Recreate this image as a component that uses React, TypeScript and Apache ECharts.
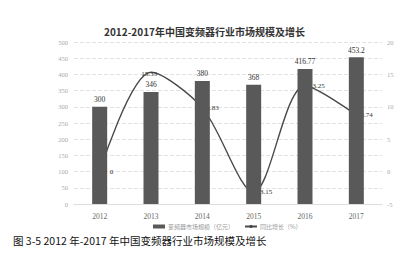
import React, { useEffect, useRef } from "react";
import * as echarts from "echarts";

const years = ["2012", "2013", "2014", "2015", "2016", "2017"];
const marketSize = [300, 346, 380, 368, 416.77, 453.2];
const growth = [0, 15.33, 9.83, -3.15, 13.25, 8.74];
const sizeName = "变频器市场规模（亿元）";
const growthName = "同比增长（%）";
const titleText = "2012-2017年中国变频器行业市场规模及增长";
const captionText = "图 3-5 2012 年-2017 年中国变频器行业市场规模及增长";

export default function App() {
  const ref = useRef<HTMLDivElement>(null);
  useEffect(() => {
    if (!ref.current) return;
    const chart = echarts.init(ref.current, null, { renderer: "svg" });
    const serif = "Liberation Serif";
    chart.setOption({
      animation: false,
      backgroundColor: "#fff",
      title: [
        {
          text: titleText,
          left: "center",
          top: 26,
          padding: 0,
          textStyle: { fontSize: 10, fontWeight: "bold", color: "#333", fontFamily: "Noto Sans CJK SC" },
        },
        {
          text: captionText,
          left: 13,
          top: 235,
          padding: 0,
          textStyle: { fontSize: 10.5, fontWeight: "normal", color: "#111", fontFamily: "Noto Sans CJK SC", lineHeight: 11 },
        },
      ],
      legend: {
        left: 153,
        top: 223,
        padding: 0,
        itemWidth: 12,
        itemHeight: 4,
        itemGap: 10,
        textStyle: { fontSize: 6, color: "#999", fontFamily: "Noto Sans CJK SC", lineHeight: 7, padding: [0, 0, 0, -2] },
        data: [
          { name: sizeName, icon: "rect" },
          { name: growthName },
        ],
      },
      grid: { left: 74, right: 27, top: 42, bottom: 54 },
      xAxis: {
        type: "category",
        data: years,
        axisTick: { show: false },
        axisLine: { lineStyle: { color: "#ddd" } },
        axisLabel: { fontSize: 7.5, color: "#666", fontFamily: serif, margin: 8 },
      },
      yAxis: [
        {
          type: "value",
          min: 0,
          max: 500,
          interval: 50,
          axisLabel: { fontSize: 6.5, color: "#aaa", fontFamily: serif, margin: 6 },
          splitLine: { lineStyle: { color: "#e2e2e2", type: "dashed" } },
          axisLine: { show: false },
          axisTick: { show: false },
        },
        {
          type: "value",
          min: -5,
          max: 20,
          interval: 5,
          axisLabel: { fontSize: 6.5, color: "#aaa", fontFamily: serif, margin: 5 },
          splitLine: { show: false },
          axisLine: { show: false },
          axisTick: { show: false },
        },
      ],
      series: [
        {
          name: growthName,
          type: "line",
          yAxisIndex: 1,
          smooth: 0.3,
          z: 1,
          symbol: "circle",
          symbolSize: 0.1,
          showSymbol: true,
          lineStyle: { color: "#4a4a4a", width: 1.4 },
          itemStyle: { color: "#4a4a4a" },
          data: growth.map((v, i) => {
            if (i === 0) return { value: v, label: { position: "right", distance: 10 } };
            if (i === 1) return { value: v, label: { position: "inside", offset: [-2, 2] } };
            return v;
          }),
          label: {
            show: true,
            position: "right",
            distance: 4,
            fontSize: 7,
            color: "#333",
            fontFamily: serif,
          },
        },
        {
          name: sizeName,
          type: "bar",
          z: 2,
          barWidth: 15,
          itemStyle: { color: "#595959" },
          data: marketSize,
          label: {
            show: true,
            position: "top",
            distance: 3,
            fontSize: 7.5,
            color: "#333",
            fontFamily: serif,
          },
        },
      ],
    });
    return () => chart.dispose();
  }, []);
  return (
    <div
      ref={ref}
      style={{ position: "fixed", left: 0, top: 0, width: 409, height: 258 }}
    />
  );
}
